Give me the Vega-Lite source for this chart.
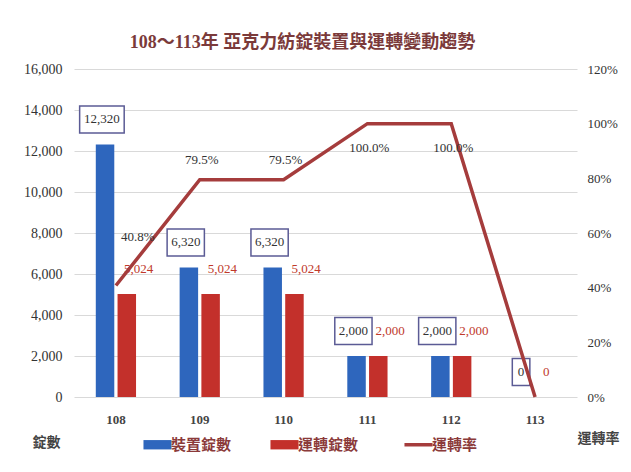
{
  "$schema": "https://vega.github.io/schema/vega-lite/v6.json",
  "width": 503,
  "height": 328,
  "autosize": {"type": "none"},
  "padding": {"left": 74, "top": 69, "right": 54, "bottom": 75},
  "background": "white",
  "config": {"view": {"stroke": null}},
  "title": {
    "text": "108～113年 亞克力紡錠裝置與運轉變動趨勢",
    "font": "Liberation Serif, Noto Sans CJK TC",
    "fontSize": 18,
    "fontWeight": "bold",
    "color": "#7b3a3a",
    "anchor": "middle",
    "dx": -23,
    "offset": 10
  },
  "data": {
    "values": [
      {"年": "108", "裝置錠數": 12320, "運轉錠數": 5024, "運轉率": 0.408},
      {"年": "109", "裝置錠數": 6320, "運轉錠數": 5024, "運轉率": 0.795},
      {"年": "110", "裝置錠數": 6320, "運轉錠數": 5024, "運轉率": 0.795},
      {"年": "111", "裝置錠數": 2000, "運轉錠數": 2000, "運轉率": 1.0},
      {"年": "112", "裝置錠數": 2000, "運轉錠數": 2000, "運轉率": 1.0},
      {"年": "113", "裝置錠數": 0, "運轉錠數": 0, "運轉率": 0}
    ]
  },
  "encoding": {
    "x": {
      "field": "年",
      "type": "nominal",
      "sort": null,
      "scale": {"paddingInner": 0.52, "paddingOuter": 0.26},
      "axis": {
        "title": null,
        "labelAngle": 0,
        "labelPadding": 16,
        "ticks": false,
        "domain": false,
        "labelFont": "Liberation Serif",
        "labelFontSize": 13,
        "labelFontWeight": "bold",
        "labelColor": "#444444"
      }
    }
  },
  "layer": [
    {
      "transform": [{"fold": ["裝置錠數", "運轉錠數"], "as": ["series", "value"]}],
      "encoding": {
        "y": {
          "field": "value",
          "type": "quantitative",
          "scale": {"domain": [0, 16000], "nice": false},
          "axis": {
            "values": [0, 2000, 4000, 6000, 8000, 10000, 12000, 14000, 16000],
            "format": ",.0f",
            "labelPadding": 12,
            "labelFont": "Liberation Serif",
            "labelFontSize": 14,
            "labelColor": "#333333",
            "ticks": false,
            "domain": false,
            "gridColor": "#d9d9d9",
            "title": "錠數",
            "titleAngle": 0,
            "titleX": -28,
            "titleY": 373,
            "titleAlign": "center",
            "titleBaseline": "middle",
            "titleFont": "Noto Sans CJK TC",
            "titleFontSize": 14,
            "titleFontWeight": "bold",
            "titleColor": "#444444"
          }
        }
      },
      "layer": [
        {
          "mark": {"type": "bar"},
          "encoding": {
            "xOffset": {"field": "series", "sort": ["裝置錠數", "運轉錠數"], "scale": {"paddingInner": 0.15}},
            "color": {
              "field": "series",
              "type": "nominal",
              "scale": {
                "domain": ["裝置錠數", "運轉錠數", "運轉率"],
                "range": ["#2e66bd", "#c3302b", "#a53c3c"]
              },
              "legend": {
                "title": null,
                "orient": "none",
                "legendX": 76,
                "legendY": 368,
                "direction": "horizontal",
                "padding": 0,
                "symbolSize": 350,
                "symbolType": "M-1.5,-0.5H1.5V0.5H-1.5Z",
                "labelFont": "Noto Sans CJK TC",
                "labelFontSize": 15,
                "labelFontWeight": "bold",
                "labelColor": "#8b3a3a",
                "labelOffset": 6,
                "columnPadding": 38,
                "encode": {
                  "symbols": {
                    "update": {
                      "shape": {"signal": "datum.label === '運轉率' ? 'M-1.5,0H1.5' : 'M-1.5,-0.5H1.5V0.5H-1.5Z'"},
                      "fill": {"signal": "datum.label === '運轉率' ? 'transparent' : scale('color', datum.value)"},
                      "stroke": {"signal": "scale('color', datum.value)"},
                      "strokeWidth": {"signal": "datum.label === '運轉率' ? 3.5 : 0"},
                      "opacity": {"value": 1}
                    }
                  }
                }
              }
            }
          }
        },
        {
          "transform": [{"filter": "datum.series === '裝置錠數'"}],
          "mark": {
            "type": "point",
            "filled": true,
            "fill": "white",
            "stroke": "#5b5b95",
            "strokeWidth": 1.5,
            "opacity": 1,
            "size": 729,
            "xOffset": -14,
            "yOffset": -25
          },
          "encoding": {
            "shape": {
              "condition": [
                {"test": "datum.value >= 10000", "value": "M-1.65,-1H1.65V1H-1.65Z"},
                {"test": "datum.value == 0", "value": "M-0.65,-1H0.65V1H-0.65Z"}
              ],
              "value": "M-1.38,-1H1.38V1H-1.38Z"
            }
          }
        },
        {
          "transform": [{"filter": "datum.series === '裝置錠數'"}],
          "mark": {
            "type": "text",
            "dx": -14,
            "dy": -25,
            "align": "center",
            "baseline": "middle",
            "font": "Liberation Serif",
            "fontSize": 13,
            "color": "#333333"
          },
          "encoding": {"text": {"field": "value", "type": "quantitative", "format": ","}}
        },
        {
          "transform": [{"filter": "datum.series === '運轉錠數'"}],
          "mark": {
            "type": "text",
            "dx": 8,
            "dy": -25,
            "align": "left",
            "baseline": "middle",
            "font": "Liberation Serif",
            "fontSize": 13,
            "color": "#c0392b"
          },
          "encoding": {"text": {"field": "value", "type": "quantitative", "format": ","}}
        }
      ]
    },
    {
      "encoding": {
        "y": {
          "field": "運轉率",
          "type": "quantitative",
          "scale": {"domain": [0, 1.2], "nice": false},
          "axis": {
            "orient": "right",
            "values": [0, 0.2, 0.4, 0.6, 0.8, 1.0, 1.2],
            "format": ".0%",
            "grid": false,
            "ticks": false,
            "domain": false,
            "labelPadding": 10,
            "labelFont": "Liberation Serif",
            "labelFontSize": 13,
            "labelColor": "#333333",
            "title": "運轉率",
            "titleAngle": 0,
            "titleX": 21,
            "titleY": 369,
            "titleAlign": "center",
            "titleBaseline": "middle",
            "titleFont": "Noto Sans CJK TC",
            "titleFontSize": 14,
            "titleFontWeight": "bold",
            "titleColor": "#444444"
          }
        }
      },
      "layer": [
        {
          "mark": {"type": "line", "strokeWidth": 3.5},
          "encoding": {"color": {"datum": "運轉率"}}
        },
        {
          "transform": [{"filter": "datum['運轉率'] > 0 && datum['運轉率'] < 0.5"}],
          "mark": {"type": "text", "dx": 22, "dy": -48, "font": "Liberation Serif", "fontSize": 13, "color": "#333333"},
          "encoding": {"text": {"field": "運轉率", "type": "quantitative", "format": ".1%"}}
        },
        {
          "transform": [{"filter": "datum['運轉率'] >= 0.5 && datum['運轉率'] < 0.99"}],
          "mark": {"type": "text", "dx": 2, "dy": -20, "font": "Liberation Serif", "fontSize": 13, "color": "#333333"},
          "encoding": {"text": {"field": "運轉率", "type": "quantitative", "format": ".1%"}}
        },
        {
          "transform": [{"filter": "datum['運轉率'] >= 0.99"}],
          "mark": {"type": "text", "dx": 2, "dy": 24, "font": "Liberation Serif", "fontSize": 13, "color": "#333333"},
          "encoding": {"text": {"field": "運轉率", "type": "quantitative", "format": ".1%"}}
        }
      ]
    }
  ],
  "resolve": {"scale": {"y": "independent"}}
}
